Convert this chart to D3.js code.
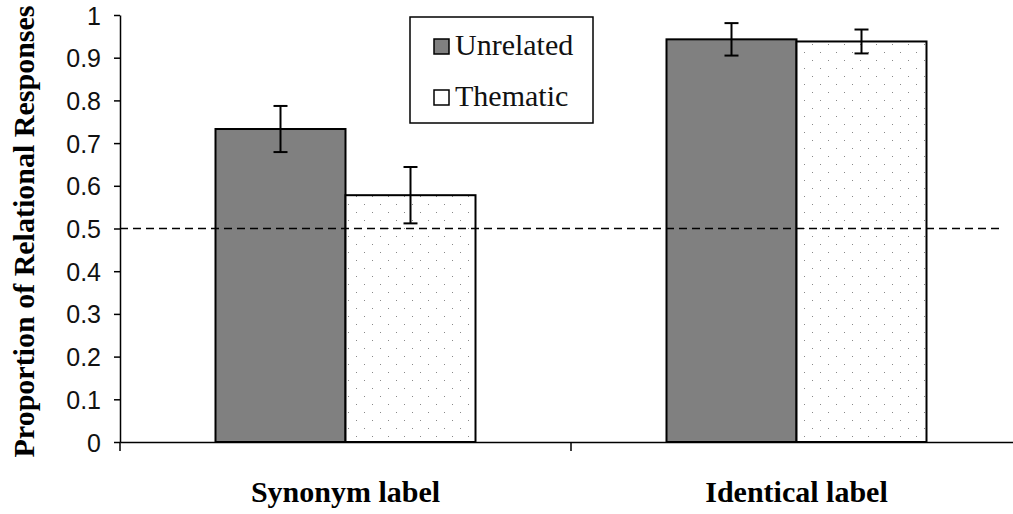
<!DOCTYPE html>
<html><head><meta charset="utf-8">
<script src="https://cdn.jsdelivr.net/npm/d3@7"></script>
<style>body{margin:0;background:#fff;}svg{display:block;}</style>
</head><body><svg id="c" width="1013" height="514"></svg>
<script>
const categories = ["Synonym label", "Identical label"];
const seriesNames = ["Unrelated", "Thematic"];
const unrelated = [0.733, 0.943];
const thematic = [0.578, 0.938];
const unrelatedErr = [0.054, 0.038];
const thematicErr = [0.066, 0.028];
const yTicks = [0, 0.1, 0.2, 0.3, 0.4, 0.5, 0.6, 0.7, 0.8, 0.9, 1];
const chanceLevel = 0.5;

const svg = d3.select("#c");
const x0 = 120, x1 = 1022, yTop = 15, yBot = 442;
const y = d3.scaleLinear().domain([0, 1]).range([yBot, yTop]);
const x = d3.scaleBand().domain(categories).range([x0, x1]).paddingInner(0).paddingOuter(0);
const xs = d3.scaleBand().domain(seriesNames).range([0, 260]);

const defs = svg.append("defs");
const pat = defs.append("pattern").attr("id", "dots").attr("patternUnits", "userSpaceOnUse")
  .attr("width", 16).attr("height", 16);
pat.append("rect").attr("width", 16).attr("height", 16).attr("fill", "#fff");
pat.append("rect").attr("x", 4).attr("y", 4).attr("width", 1).attr("height", 1).attr("fill", "#888");
pat.append("rect").attr("x", 12).attr("y", 12).attr("width", 1).attr("height", 1).attr("fill", "#888");

const data = [];
categories.forEach((c, i) => {
  data.push({cat: c, s: "Unrelated", v: unrelated[i], e: unrelatedErr[i]});
  data.push({cat: c, s: "Thematic", v: thematic[i], e: thematicErr[i]});
});
const bx = d => x(d.cat) + (x.bandwidth() - 260) / 2 + xs(d.s);

// bars
svg.selectAll("rect.bar").data(data).enter().append("rect")
  .attr("x", d => bx(d)).attr("y", d => y(d.v))
  .attr("width", xs.bandwidth()).attr("height", d => yBot - y(d.v))
  .attr("fill", d => d.s === "Unrelated" ? "#808080" : "url(#dots)")
  .attr("stroke", "#000").attr("stroke-width", 2);

// dashed chance line
svg.append("line").attr("x1", x0).attr("x2", 1003).attr("y1", y(chanceLevel)).attr("y2", y(chanceLevel))
  .attr("stroke", "#000").attr("stroke-width", 1.5).attr("stroke-dasharray", "8,5");

// error bars
const eb = svg.selectAll("g.eb").data(data).enter().append("g")
  .attr("stroke", "#000").attr("stroke-width", 2);
eb.append("line").attr("x1", d => bx(d) + xs.bandwidth() / 2).attr("x2", d => bx(d) + xs.bandwidth() / 2)
  .attr("y1", d => y(d.v + d.e)).attr("y2", d => y(d.v - d.e));
eb.append("line").attr("x1", d => bx(d) + xs.bandwidth() / 2 - 7).attr("x2", d => bx(d) + xs.bandwidth() / 2 + 7)
  .attr("y1", d => y(d.v + d.e)).attr("y2", d => y(d.v + d.e));
eb.append("line").attr("x1", d => bx(d) + xs.bandwidth() / 2 - 7).attr("x2", d => bx(d) + xs.bandwidth() / 2 + 7)
  .attr("y1", d => y(d.v - d.e)).attr("y2", d => y(d.v - d.e));

// y axis
const ya = svg.append("g").attr("transform", `translate(${x0},0)`)
  .call(d3.axisLeft(y).tickValues(yTicks).tickFormat(d3.format("")).tickSize(6).tickSizeOuter(0).tickPadding(13));
ya.select(".domain").attr("stroke", "#000").attr("stroke-width", 1.5);
ya.selectAll(".tick line").attr("stroke", "#000").attr("stroke-width", 1.5);
ya.selectAll(".tick text").attr("font-family", "'Liberation Sans', Arial, sans-serif")
  .attr("font-size", 25).attr("fill", "#111").attr("dy", "0.36em");

// x axis
const xa = svg.append("g").attr("transform", `translate(0,${yBot})`)
  .call(d3.axisBottom(x).tickSize(0).tickSizeOuter(0));
xa.select(".domain").attr("stroke", "#000").attr("stroke-width", 1.5);
xa.selectAll(".tick text").attr("y", 60).attr("dy", 0)
  .attr("font-family", "'Liberation Serif', 'Times New Roman', serif")
  .attr("font-weight", "bold").attr("font-size", 30).attr("fill", "#000");
// category boundary ticks
svg.selectAll("line.xt").data(categories).enter().append("line")
  .attr("x1", d => x(d)).attr("x2", d => x(d)).attr("y1", yBot).attr("y2", yBot + 9)
  .attr("stroke", "#000").attr("stroke-width", 1.5);

// y title
svg.append("text").attr("transform", `translate(34,${(yTop + yBot) / 2 + 3}) rotate(-90)`)
  .attr("text-anchor", "middle").attr("font-family", "'Liberation Serif', 'Times New Roman', serif")
  .attr("font-weight", "bold").attr("font-size", 30).text("Proportion of Relational Responses");

// legend
const lg = svg.append("g");
lg.append("rect").attr("x", 410).attr("y", 17).attr("width", 183).attr("height", 106)
  .attr("fill", "#fff").attr("stroke", "#000").attr("stroke-width", 1.5);
seriesNames.forEach((s, i) => {
  const yy = 39 + i * 51;
  lg.append("rect").attr("x", 434).attr("y", yy).attr("width", 15).attr("height", 15)
    .attr("fill", s === "Unrelated" ? "#808080" : "#fff").attr("stroke", "#000").attr("stroke-width", 1.5);
  lg.append("text").attr("x", 455).attr("y", yy + 16).attr("font-family", "'Liberation Serif', 'Times New Roman', serif")
    .attr("font-size", 30).attr("fill", "#111").text(s);
});
</script></body></html>
